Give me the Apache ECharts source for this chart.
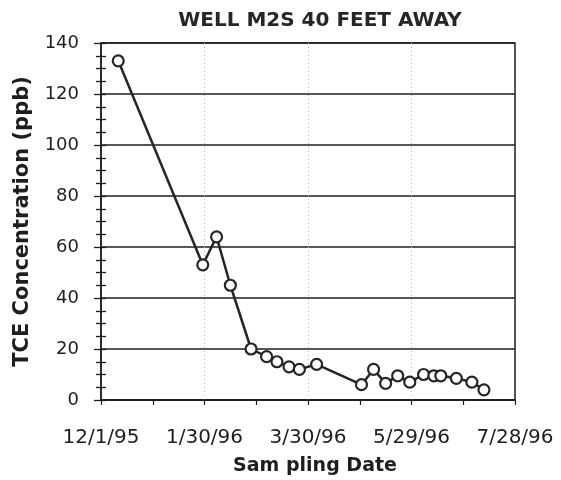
<!DOCTYPE html>
<html>
<head>
<meta charset="utf-8">
<script src="https://cdn.jsdelivr.net/npm/echarts@6/dist/echarts.min.js"></script>
<style>
  html, body { margin: 0; padding: 0; background: #fff; }
  #chart { width: 561px; height: 480px; }
</style>
</head>
<body>
<div id="chart"></div>
<script>
// TCE concentration samples from well M2S (40 feet away)
const sampleDates = ['12/11/95', '1/29/96', '2/6/96', '2/14/96', '2/26/96', '3/6/96', '3/12/96',
  '3/19/96', '3/25/96', '4/4/96', '4/30/96', '5/7/96', '5/14/96', '5/21/96', '5/28/96',
  '6/5/96', '6/11/96', '6/15/96', '6/24/96', '7/3/96', '7/10/96'];
const tceValues = [133, 53, 64, 45, 20, 17, 15, 13, 12, 14, 6, 12, 6.5, 9.5, 7, 10, 9.5, 9.5, 8.5, 7, 4];
const xTickLabels = ['12/1/95', '1/30/96', '3/30/96', '5/29/96', '7/28/96'];
const yTickValues = [0, 20, 40, 60, 80, 100, 120, 140];

const DAY = 86400000;
function parseDate(s) {
  const [m, d, y] = s.split('/').map(Number);
  return Date.UTC(1900 + y, m - 1, d);
}
const startTime = parseDate(xTickLabels[0]);
const toDays = s => Math.round((parseDate(s) - startTime) / DAY);
const xMax = toDays(xTickLabels[xTickLabels.length - 1]);
const xStep = toDays(xTickLabels[1]);

function fmtDay(v) {
  const d = new Date(startTime + v * DAY);
  return (d.getUTCMonth() + 1) + '/' + d.getUTCDate() + '/' + String(d.getUTCFullYear()).slice(2);
}

const points = sampleDates.map((s, i) => [toDays(s), tceValues[i]]);

const ink = '#1e1e1e';
const font = 'DejaVu Sans';
const clear = 'rgba(0,0,0,0)';
const dotGrey = '#b8b8b8';

const chart = echarts.init(document.getElementById('chart'), null, { renderer: 'canvas' });
chart.setOption({
  animation: false,
  backgroundColor: '#fff',
  title: {
    text: 'WELL M2S 40 FEET AWAY',
    left: 315,
    top: 6,
    textAlign: 'center',
    textStyle: { fontFamily: font, fontWeight: 'bold', fontSize: 20, color: '#262626' }
  },
  grid: {
    left: 101, right: 46, top: 43, bottom: 80,
    outerBoundsMode: 'none',
    containLabel: false,
    show: true, borderColor: ink, borderWidth: 1.5, backgroundColor: 'transparent'
  },
  xAxis: {
    type: 'value',
    min: 0, max: xMax, interval: xStep,
    name: 'Sam pling Date',
    nameLocation: 'middle',
    nameGap: 57,
    nameTextStyle: { fontFamily: font, fontWeight: 'bold', fontSize: 19, color: ink, padding: [0, 0, 0, 14] },
    axisLine: { show: true, lineStyle: { color: ink, width: 1.5 } },
    axisTick: { show: true, length: 5, lineStyle: { color: ink, width: 1.2 } },
    minorTick: { show: true, splitNumber: 2, length: 5, lineStyle: { color: ink, width: 1.2 } },
    axisLabel: {
      margin: 28, fontFamily: font, fontSize: 20, color: ink,
      formatter: v => fmtDay(v)
    },
    // faint dotted verticals only at the interior date ticks
    splitLine: { show: true, lineStyle: { color: [clear, dotGrey, dotGrey, dotGrey, clear], width: 1, type: [1, 3] } }
  },
  yAxis: [{
    type: 'value',
    min: yTickValues[0], max: yTickValues[yTickValues.length - 1], interval: yTickValues[1] - yTickValues[0],
    name: 'TCE Concentration (ppb)',
    nameLocation: 'middle',
    nameGap: 68,
    nameTextStyle: { fontFamily: font, fontWeight: 'bold', fontSize: 21, color: ink },
    axisLine: { show: true, lineStyle: { color: ink, width: 1.5 } },
    axisTick: { show: true, length: 7, lineStyle: { color: ink, width: 1.3 } },
    minorTick: { show: true, splitNumber: 4, length: 5, lineStyle: { color: ink, width: 1.3 } },
    axisLabel: { margin: 22, fontFamily: font, fontSize: 18, color: ink },
    splitLine: { show: true, lineStyle: { color: ink, width: 1.5 } }
  }, {
    // inner half of the crossing ticks on the left axis
    type: 'value',
    position: 'left',
    min: yTickValues[0], max: yTickValues[yTickValues.length - 1], interval: yTickValues[1] - yTickValues[0],
    axisLine: { show: false },
    axisTick: { show: true, inside: true, length: 5, lineStyle: { color: ink, width: 1.3 } },
    minorTick: { show: true, splitNumber: 4, length: 5, lineStyle: { color: ink, width: 1.3 } },
    axisLabel: { show: false },
    splitLine: { show: false }
  }],
  series: [{
    type: 'line',
    yAxisIndex: 0,
    data: points,
    symbol: 'circle',
    symbolSize: 11,
    lineStyle: { color: '#252525', width: 2.5 },
    itemStyle: { color: '#fff', borderColor: '#252525', borderWidth: 2.2 },
    z: 5
  }]
});
</script>
</body>
</html>
